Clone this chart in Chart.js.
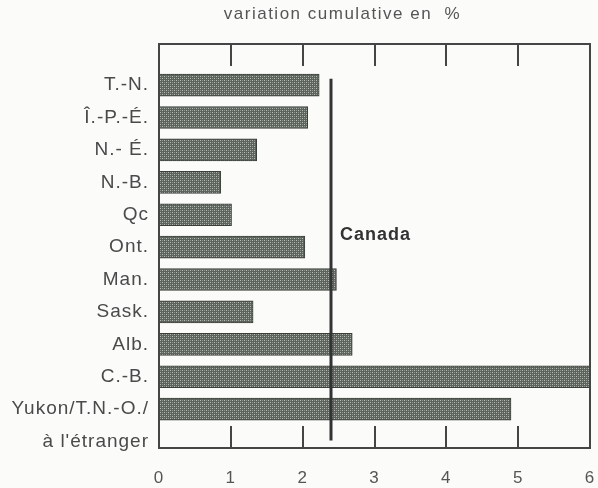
<!DOCTYPE html>
<html>
<head>
<meta charset="utf-8">
<script src="https://cdn.jsdelivr.net/npm/chart.js@4.4.0/dist/chart.umd.min.js"></script>
<style>
  html, body { margin: 0; padding: 0; background: #fbfbfa; }
  #wrap { width: 598px; height: 488px; }
</style>
</head>
<body>
<div id="wrap"><canvas id="myChart"></canvas></div>
<script>
// categories (y axis), last label is split on two rows
const provinces = ['T.-N.', 'Î.-P.-É.', 'N.- É.', 'N.-B.', 'Qc', 'Ont.', 'Man.', 'Sask.', 'Alb.', 'C.-B.', 'Yukon/T.N.-O./'];
const rowLabels = provinces.concat(["à l'étranger"]);
// cumulative variation in %
const variation = [2.23, 2.07, 1.36, 0.86, 1.01, 2.03, 2.47, 1.31, 2.69, 6.0, 4.9];
const canadaValue = 2.39;
const xTicks = [0, 1, 2, 3, 4, 5, 6];

const FONT = '"Liberation Sans", Arial, sans-serif';
const INK = '#4a4a4a';

// dotted grey texture of the bars
const makePattern = () => {
  const c = document.createElement('canvas');
  c.width = 4; c.height = 4;
  const g = c.getContext('2d');
  g.fillStyle = '#5c625c';
  g.fillRect(0, 0, 4, 4);
  g.fillStyle = '#b8bdb8';
  g.fillRect(0, 0, 1, 1);
  g.fillRect(2, 2, 1, 1);
  g.fillStyle = '#8e948e';
  g.fillRect(2, 0, 1, 1);
  g.fillRect(0, 2, 1, 1);
  return g.createPattern(c, 'repeat');
};

// the scanned lettering is wide, so space the letters a bit
const spacingPlugin = {
  id: 'spacing',
  beforeLayout(chart) { chart.ctx.letterSpacing = '1px'; },
  beforeDraw(chart) { chart.ctx.letterSpacing = '1px'; }
};

const framePlugin = {
  id: 'frame',
  afterDatasetsDraw(chart) {
    const { ctx, chartArea: a, scales: { x, y } } = chart;
    ctx.save();
    ctx.strokeStyle = '#454545';
    ctx.lineWidth = 2;
    ctx.strokeRect(a.left, a.top, a.right - a.left, a.bottom - a.top);
    // inner tick marks, top and bottom
    xTicks.slice(1, -1).forEach(v => {
      const px = Math.round(x.getPixelForValue(v));
      ctx.beginPath();
      ctx.moveTo(px, a.top); ctx.lineTo(px, a.top + 22);
      ctx.moveTo(px, a.bottom); ctx.lineTo(px, a.bottom - 22);
      ctx.stroke();
    });
    // Canada reference line
    const cx = Math.round(x.getPixelForValue(canadaValue));
    ctx.strokeStyle = '#333';
    ctx.lineWidth = 3;
    ctx.beginPath();
    ctx.moveTo(cx, y.getPixelForValue(-0.2));
    ctx.lineTo(cx, y.getPixelForValue(10.97));
    ctx.stroke();
    ctx.fillStyle = '#333';
    ctx.font = 'bold 18px ' + FONT;
    ctx.letterSpacing = '1px';
    ctx.textBaseline = 'middle';
    ctx.textAlign = 'left';
    ctx.fillText('Canada', cx + 9, y.getPixelForValue(4.63));
    // title over the plot
    ctx.fillStyle = '#555';
    ctx.font = '17px ' + FONT;
    ctx.letterSpacing = '1.5px';
    ctx.textAlign = 'center';
    ctx.fillText('variation cumulative en  %', (a.left + a.right) / 2 - 32, 14);
    ctx.restore();
  }
};

new Chart(document.getElementById('myChart'), {
  type: 'bar',
  data: {
    datasets: [{
      data: variation.map((v, i) => ({ x: v, y: i })),
      backgroundColor: makePattern(),
      borderColor: '#3a3f3a',
      borderWidth: 1,
      borderSkipped: false,
      barThickness: 22
    }]
  },
  options: {
    indexAxis: 'y',
    responsive: true,
    maintainAspectRatio: false,
    animation: false,
    layout: { padding: { top: 44, right: 8, left: 0, bottom: 0 } },
    plugins: { legend: { display: false }, tooltip: { enabled: false } },
    scales: {
      x: {
        type: 'linear',
        min: 0,
        max: 6,
        offset: false,
        afterBuildTicks: s => { s.ticks = xTicks.map(v => ({ value: v })); },
        afterFit: s => { s.height = 40; s.paddingLeft = 0; s.paddingRight = 0; },
        grid: { display: false, drawTicks: false },
        border: { display: false },
        ticks: { padding: 20, color: '#555', font: { family: FONT, size: 17 } }
      },
      y: {
        type: 'linear',
        reverse: true,
        offset: false,
        min: -1.27,
        max: 11.2,
        afterBuildTicks: s => { s.ticks = rowLabels.map((_, i) => ({ value: i })); },
        afterFit: s => { s.width = 159; s.paddingTop = 0; s.paddingBottom = 0; },
        grid: { display: false, drawTicks: false },
        border: { display: false },
        ticks: {
          padding: 10,
          color: INK,
          font: { family: FONT, size: 19 },
          callback: v => rowLabels[v]
        }
      }
    }
  },
  plugins: [spacingPlugin, framePlugin]
});
</script>
</body>
</html>
